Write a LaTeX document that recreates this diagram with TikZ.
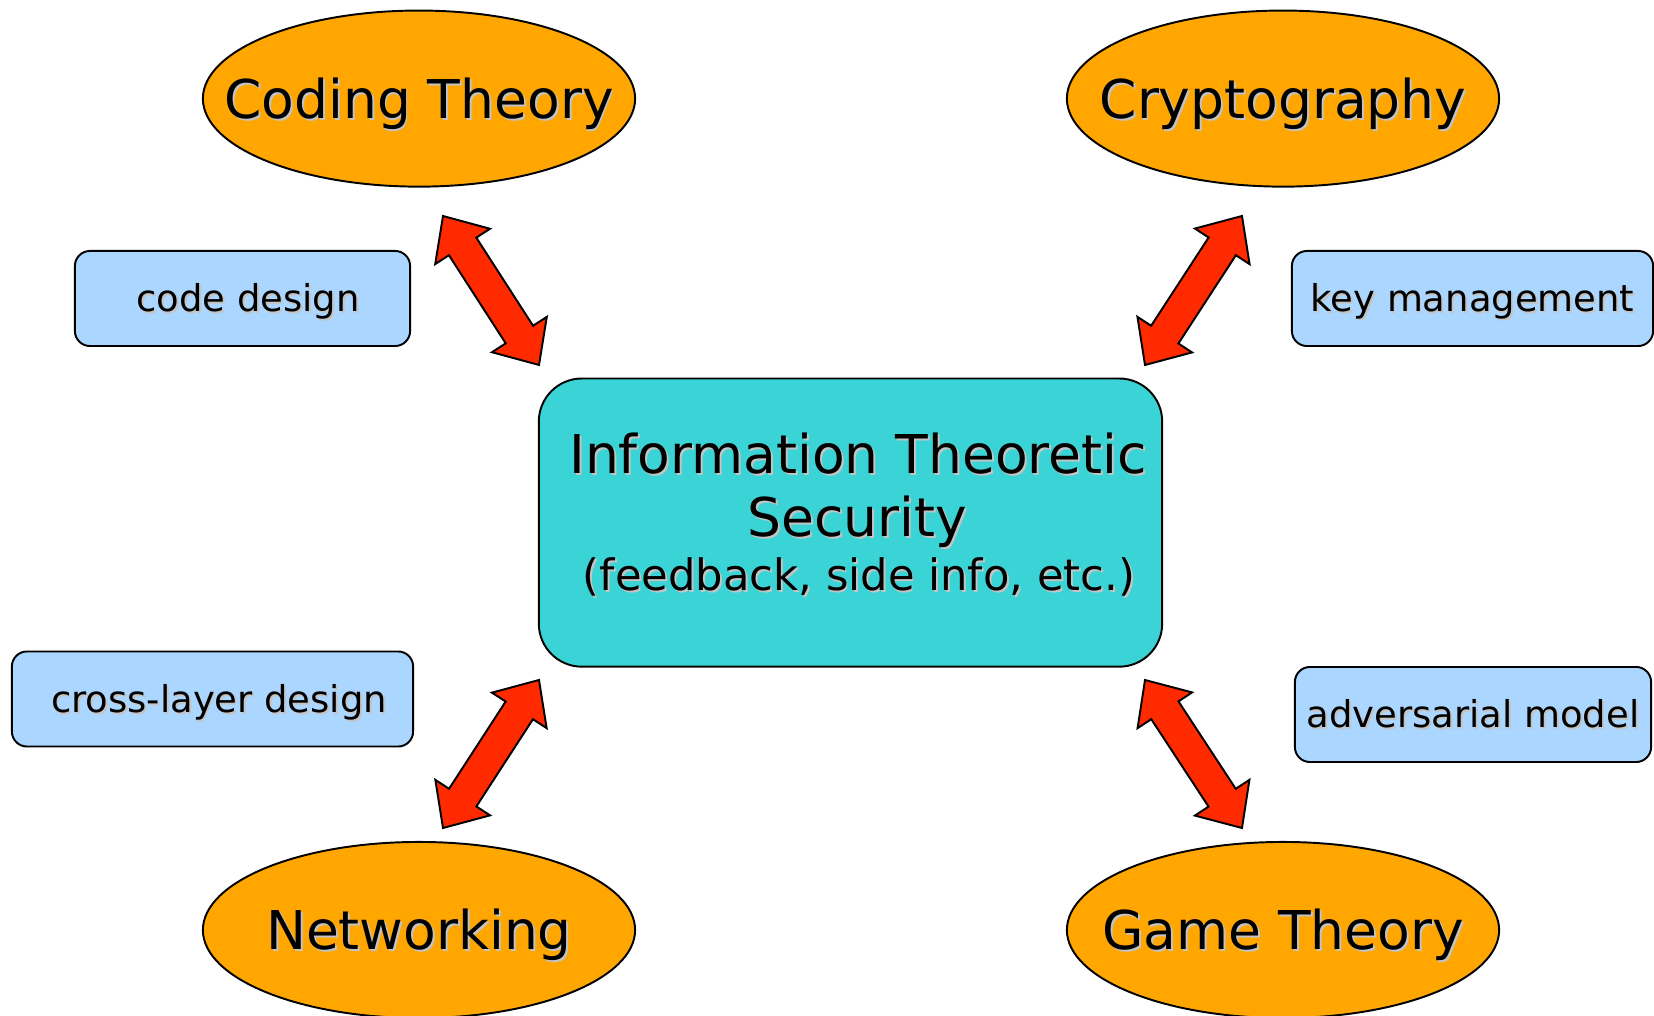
\documentclass[tikz,border=0pt]{standalone}
\usepackage{fontspec}
\setmainfont{DejaVu Sans}
\usetikzlibrary{calc,shapes.geometric}

\definecolor{topicorange}{RGB}{255,166,0}
\definecolor{coreteal}{RGB}{58,212,214}
\definecolor{noteblue}{RGB}{170,214,255}
\definecolor{linkred}{RGB}{255,42,0}
\definecolor{shadowc}{RGB}{196,196,196}

% text with a soft drop shadow
\newcommand\shd[1]{\leavevmode\rlap{\kern0.55pt\raisebox{-0.55pt}{\textcolor{shadowc}{#1}}}#1}
% the same, taking no width (the ellipse keeps its own size)
\newcommand\shdz[1]{\makebox[0pt]{\shd{#1}}}

% double-headed block arrow between two named points
\newcommand\blockarrow[2]{%
  \draw[linkarrow] (#1)
    -- ($(#1)!0.362cm!(#2)!0.326cm!90:(#2)$)
    -- ($(#1)!0.362cm!(#2)!0.1625cm!90:(#2)$)
    -- ($(#2)!0.362cm!(#1)!0.1625cm!-90:(#1)$)
    -- ($(#2)!0.362cm!(#1)!0.326cm!-90:(#1)$)
    -- (#2)
    -- ($(#2)!0.362cm!(#1)!0.326cm!90:(#1)$)
    -- ($(#2)!0.362cm!(#1)!0.1625cm!90:(#1)$)
    -- ($(#1)!0.362cm!(#2)!0.1625cm!-90:(#2)$)
    -- ($(#1)!0.362cm!(#2)!0.326cm!-90:(#2)$)
    -- cycle;}

\begin{document}
\begin{tikzpicture}[x=0.01cm,y=-0.01cm,
  topic/.style={ellipse, draw, line width=0.55pt, fill=topicorange,
    minimum width=4.32cm, minimum height=1.76cm, inner sep=0pt,
    font=\fontsize{15.2}{18}\selectfont, text height=11.1pt, text depth=0pt},
  core/.style={draw, line width=0.55pt, fill=coreteal, rounded corners=0.43cm,
    minimum width=6.23cm, minimum height=2.88cm, inner sep=0pt},
  bigtext/.style={anchor=base, inner sep=0pt, font=\fontsize{15.2}{18}\selectfont},
  midtext/.style={anchor=base, inner sep=0pt, font=\fontsize{12.3}{15}\selectfont},
  notebox/.style={draw, line width=0.55pt, fill=noteblue, rounded corners=0.15cm,
    inner sep=0pt, minimum height=0.95cm,
    font=\fontsize{10.5}{12}\selectfont, text height=7.65pt, text depth=0pt},
  linkarrow/.style={draw=black, line width=0.55pt, fill=linkred, line join=miter}]

\useasboundingbox (0,0) rectangle (1654,1016);

% topic ellipses
\node[topic] (coding) at (419,98.6) {\shdz{Coding Theory}};
\node[topic] (crypto) at (1283,98.6) {\shdz{Cryptography}};
\node[topic] (netw)   at (419,930) {\shdz{Networking}};
\node[topic] (game)   at (1283,930) {\shdz{Game Theory}};

% central box
\node[core] (its) at (850.5,522.6) {};
\node[bigtext] (itsA) at (858,474) {\shd{Information Theoretic}};
\node[bigtext] (itsB) at (857,537) {\shd{Security}};
\node[midtext] (itsC) at (859,591) {\shd{(feedback, side info, etc.)}};

% side notes
\node[notebox, minimum width=3.35cm] (cd) at (242.5,298.5) {\hspace*{3.1pt}\shd{code design}};
\node[notebox, minimum width=3.61cm] (km) at (1472.5,298.5) {\shd{key management}};
\node[notebox, minimum width=4.01cm] (cl) at (212.5,699) {\hspace*{3.7pt}\shd{cross-layer design}};
\node[notebox, minimum width=3.56cm] (am) at (1473,714.5) {\shd{adversarial model}};

% arrow end points
\coordinate (codingEnd) at (443,216);
\coordinate (itsNW) at (539,365);
\coordinate (cryptoEnd) at (1242,216);
\coordinate (itsNE) at (1145,365);
\coordinate (itsSW) at (539,680);
\coordinate (netwEnd) at (443,828);
\coordinate (itsSE) at (1145,680);
\coordinate (gameEnd) at (1242,828);

\blockarrow{codingEnd}{itsNW}
\blockarrow{cryptoEnd}{itsNE}
\blockarrow{itsSW}{netwEnd}
\blockarrow{itsSE}{gameEnd}

\end{tikzpicture}
\end{document}
